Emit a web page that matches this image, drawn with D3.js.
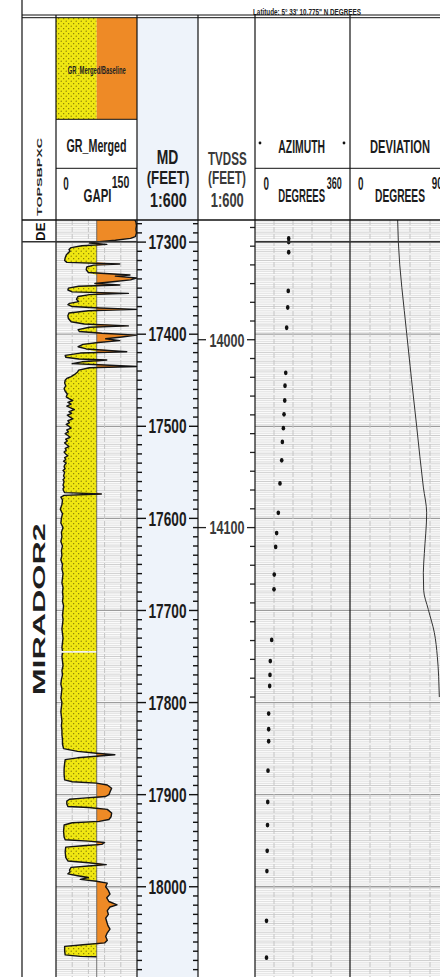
<!DOCTYPE html>
<head>
  <meta charset="utf-8">
  <script src="https://d3js.org/d3.v7.min.js"></script>
  <style>
    body { margin: 0; background: #fff; }
    text {
      font-family: "Liberation Sans Narrow", "Arial Narrow", "Liberation Sans", sans-serif;
      font-weight: bold;
    }
  </style>
</head>

<body>
  <script>
  // formation tops (MD, feet)
  var topNames = ["DE", "MIRADOR2"],
      topDepths = [17276, 17299.6];

  var mdLabels = [17300, 17400, 17500, 17600, 17700, 17800, 17900, 18000];
  var tvdLabels = [14000, 14100];

  // survey stations used to place the TVDSS ticks
  var surveyMd = [17276, 17406, 17610, 17794],
      surveyTvd = [13936, 14000, 14100, 14190];

  // azimuth survey points
  var azMd = [17296, 17300, 17311, 17353, 17371, 17393, 17442, 17456, 17472, 17487, 17502, 17517,
              17537, 17562, 17594, 17616, 17631, 17661, 17677, 17732, 17755, 17770, 17782, 17812,
              17829, 17842, 17874, 17908, 17933, 17961, 17983, 18037, 18077];
  var azDeg = [127.7, 127.7, 127.7, 126, 124, 120, 116.5, 113.7, 112.7, 110, 107.5, 103.7,
               101.2, 94.7, 88.4, 82, 78.3, 73, 72, 63.2, 58, 56.8, 55.6, 51.8,
               51.8, 51.8, 49.3, 48.3, 47.4, 46.2, 45.1, 43.6, 43.6];

  // deviation
  var devMd = [17276, 17300, 17399, 17500, 17566, 17594, 17638, 17659, 17678, 17699, 17724, 17750, 17772, 17794];
  var devDeg = [42.9, 43.5, 51, 60, 66, 69, 66.9, 66.0, 66.3, 70.5, 75.9, 78.6, 79.8, 80.4];

  var grBaseline = 75.4;

  // GR_Merged [MD, GAPI]
  var grLog = [
    [17276,146],[17278,148],[17282,149],[17286,148],[17290,149],[17294,147],[17296,138],[17298,110],[17299.5,80],
    [17301,62],[17302.5,94],[17304,48],[17306,28],[17308,24],[17310,26],[17312,22],[17314,19],[17317,17],[17320,16],
    [17322,20],[17323.8,118],[17325,70],[17327,57],[17330,56],[17333,60],[17335.7,137],[17337,110],[17339,149],
    [17341,138],[17343,105],[17345,72],[17346.6,118],[17348,42],[17350,23],[17352,22],[17354,30],[17355.7,134],
    [17357,62],[17359,41],[17362,38],[17364.7,42],[17366.5,25],[17368,22],[17370,30],[17371.5,80],[17373,149],
    [17374.5,60],[17377,24],[17380,22],[17383,23],[17386.5,28],[17389,52],[17391,134],[17392.5,62],[17395,41],
    [17397,43],[17399,85],[17401,149],[17403,122],[17405,92],[17407,118],[17409,78],[17411,50],[17413.6,41],
    [17416,56],[17419,131],[17420.5,45],[17423,17],[17425,18],[17427,42],[17428,94],[17430,48],[17432,30],
    [17433.5,90],[17435,149],[17436.5,62],[17439,42],[17441,40],[17443,36],[17446,28],[17448,20],[17450,17],
    [17453,16],[17456,18],[17459,15],[17462,17],[17465,21],[17468,19],
    [17470,24],[17472,31],[17474,22],[17476,28],[17478,20],[17480,27],[17482,34],[17484,24],[17486,29],[17488,21],
    [17490,26],[17492,31],[17494,22],[17496,25],[17498,19],[17500,24],[17502,28],[17504,20],[17506,23],[17508,17],
    [17510,22],[17512,26],[17514,18],[17516,21],[17518,16],[17520,20],[17522,24],[17524,17],[17526,19],[17528,15],
    [17530,18],[17532,22],[17534,16],[17536,18],[17538,14],[17540,19],[17542,16],[17544,15],[17546,17],[17548,13],
    [17550,16],[17552,15],[17554,14],[17556,16],[17558,13],[17560,15],[17562,14],[17564,13],[17566,15],[17568,13],
    [17570,14],[17572,16],[17573.5,84],[17575,15],[17577,9],[17580,12],[17585,11],[17590,8],[17595,12],[17600,10],
    [17605,9],[17610,13],[17615,10],[17620,11],[17625,9],[17630,12],[17635,10],[17640,11],[17645,9],[17650,12],
    [17655,11],[17660,13],[17665,12],[17670,11],[17675,13],[17680,12],[17685,13],[17690,12],[17695,14],[17700,13],
    [17705,12],[17710,13],[17715,12],[17720,11],[17725,12],[17730,13],[17735,12],[17740,11],[17744,12],[17745,null],
    [17746,12],[17750,11],[17755,12],[17760,13],[17765,11],[17770,12],[17775,10],[17780,9],[17785,11],[17790,10],
    [17795,9],[17800,11],[17805,10],[17810,9],[17815,10],[17820,11],[17825,10],[17830,11],[17835,11],[17840,12],
    [17845,12],[17850,14],[17853,40],[17855,75],[17856.7,109],[17858,80],[17860,40],[17862,17],[17866,16],[17872,15],
    [17878,15],[17884,16],[17886,30],[17887.5,75],[17889.5,95],[17893,103],[17897,100],[17900,98],[17902,92],
    [17903.8,50],[17905,25],[17907,20],[17910,20],[17912.8,22],[17914,60],[17916,95],[17920,103],[17924,102],
    [17927,98],[17929,80],[17930.5,30],[17933,15],[17940,14],[17946,15],[17949,17],[17950.5,60],[17952,90],
    [17954,85],[17955.5,50],[17957,18],[17962,17],[17968,18],[17972,22],[17974,60],[17976,93],[17977.5,60],
    [17979,28],[17982,25],[17984,26],[17986,22],[17988,40],[17990,60],[17992,45],[17994,75],[17996,95],[18000,92],
    [18004,97],[18008,100],[18012,94],[18016,98],[18019.6,113],[18022,100],[18026,95],[18030,97],[18034,92],
    [18038,94],[18042,96],[18046,100],[18050,95],[18054,92],[18058,95],[18061,90],[18063,50],[18064.8,16],
    [18070,16],[18074,17],[18075.6,45],[18076,75]
  ];

  var width = 440, height = 977;
  var headTop = 17.7, dataTop = 220, dataBottom = 977;

  // track edges
  var zoneX = [22, 56], grX = [56, 137], mdX = [137, 198],
      tvdX = [198, 255], azX = [255, 350], devX = [350, 450];

  var svg = d3.select("body").append("svg")
      .attr("width", width)
      .attr("height", height);

  var y = d3.scaleLinear().domain([17276, 18098]).range([dataTop, dataBottom]);
  var xGR = d3.scaleLinear().domain([0, 150]).range(grX);
  var xAz = d3.scaleLinear().domain([0, 360]).range(azX);
  var xDev = d3.scaleLinear().domain([0, 90]).range(devX);
  var tvdToMd = d3.scaleLinear().domain(surveyTvd).range(surveyMd);

  var defs = svg.append("defs");
  var sand = defs.append("pattern")
      .attr("id", "sand")
      .attr("patternUnits", "userSpaceOnUse")
      .attr("width", 5).attr("height", 5);
  sand.append("rect").attr("width", 5).attr("height", 5).attr("fill", "#f0e712");
  sand.append("circle").attr("cx", 1.2).attr("cy", 1.2).attr("r", 0.6).attr("fill", "#6f6600");
  sand.append("circle").attr("cx", 3.7).attr("cy", 3.7).attr("r", 0.6).attr("fill", "#6f6600");

  defs.append("clipPath").attr("id", "dataClip")
    .append("rect")
      .attr("x", 0).attr("y", dataTop)
      .attr("width", width).attr("height", dataBottom - dataTop);

  defs.append("clipPath").attr("id", "topCell")
    .append("rect")
      .attr("x", zoneX[0]).attr("y", y(topDepths[0]))
      .attr("width", zoneX[1] - zoneX[0])
      .attr("height", y(topDepths[1]) - y(topDepths[0]));

  function addText(x, yPos, str, size, len, anchor, color) {
    var t = svg.append("text")
        .attr("x", x)
        .attr("y", yPos)
        .attr("font-size", size)
        .attr("text-anchor", anchor || "middle")
        .attr("fill", color || "#1c1c1c")
        .text(str);
    if (len) t.attr("textLength", len).attr("lengthAdjust", "spacingAndGlyphs");
    return t;
  }

  // MD track background
  svg.append("rect")
      .attr("x", mdX[0]).attr("y", headTop)
      .attr("width", mdX[1] - mdX[0]).attr("height", height - headTop)
      .attr("fill", "#eef3fa");

  // ---- grids in data tracks
  var grid = svg.append("g").attr("clip-path", "url(#dataClip)");
  var gridDepths = d3.range(17278, 18098, 2);
  [grX, azX, devX].forEach(function(tx) {
    grid.append("g").selectAll("line")
      .data(gridDepths)
      .enter().append("line")
        .attr("x1", tx[0]).attr("x2", tx[1])
        .attr("y1", function(d) { return y(d); })
        .attr("y2", function(d) { return y(d); })
        .attr("stroke", function(d) { return d % 100 === 0 ? "#9c9c9c" : d % 10 === 0 ? "#cdcdcd" : "#e2e2e2"; })
        .attr("stroke-width", function(d) { return d % 100 === 0 ? 1.3 : 1; });
  });

  function vGrid(scale, values) {
    grid.append("g").selectAll("line")
      .data(values)
      .enter().append("line")
        .attr("x1", scale).attr("x2", scale)
        .attr("y1", dataTop).attr("y2", dataBottom)
        .attr("stroke", "#c4c4c4")
        .attr("stroke-dasharray", "5,2");
  }
  vGrid(xGR, [30, 60, 90, 120]);
  vGrid(xAz, [72, 144, 216, 288]);
  vGrid(xDev, [18, 36, 54, 72]);

  // ---- GR fills and curve
  var defined = function(d) { return d[1] != null; };
  var sandArea = d3.area()
      .defined(defined)
      .y(function(d) { return y(d[0]); })
      .x0(xGR(grBaseline))
      .x1(function(d) { return xGR(Math.min(d[1], grBaseline)); });
  var shaleArea = d3.area()
      .defined(defined)
      .y(function(d) { return y(d[0]); })
      .x0(xGR(grBaseline))
      .x1(function(d) { return xGR(Math.max(d[1], grBaseline)); });
  var grLine = d3.line()
      .defined(defined)
      .x(function(d) { return xGR(d[1]); })
      .y(function(d) { return y(d[0]); });

  var grG = svg.append("g").attr("clip-path", "url(#dataClip)");
  grG.append("path").datum(grLog).attr("d", sandArea).attr("fill", "url(#sand)");
  grG.append("path").datum(grLog).attr("d", shaleArea).attr("fill", "#ee8a26");
  grG.append("line")
      .attr("x1", xGR(grBaseline)).attr("x2", xGR(grBaseline))
      .attr("y1", dataTop).attr("y2", dataBottom)
      .attr("stroke", "#555").attr("stroke-width", 0.8);
  grG.append("path").datum(grLog)
      .attr("d", grLine)
      .attr("fill", "none")
      .attr("stroke", "#141414")
      .attr("stroke-width", 1.4)
      .attr("stroke-linejoin", "round");

  // ---- azimuth dots
  svg.append("g").selectAll("ellipse")
    .data(d3.range(azMd.length))
    .enter().append("ellipse")
      .attr("cx", function(i) { return xAz(azDeg[i]); })
      .attr("cy", function(i) { return y(azMd[i]); })
      .attr("rx", 1.8).attr("ry", 2.4)
      .attr("fill", "#111");

  // ---- deviation curve
  var devLine = d3.line()
      .x(function(i) { return xDev(devDeg[i]); })
      .y(function(i) { return y(devMd[i]); })
      .curve(d3.curveMonotoneY);
  svg.append("path")
      .datum(d3.range(devMd.length))
      .attr("d", devLine)
      .attr("fill", "none")
      .attr("stroke", "#333")
      .attr("stroke-width", 1);

  // ---- MD ticks and labels
  var mdTicks = d3.range(17280, 18098, 10);
  var mdG = svg.append("g").attr("clip-path", "url(#dataClip)");
  mdG.selectAll(".l").data(mdTicks).enter().append("line")
      .attr("x1", mdX[0])
      .attr("x2", function(d) { return mdX[0] + (d % 100 === 0 ? 9 : 5); })
      .attr("y1", function(d) { return y(d); })
      .attr("y2", function(d) { return y(d); })
      .attr("stroke", "#111").attr("stroke-width", 1.4);
  mdG.selectAll(".r").data(mdTicks).enter().append("line")
      .attr("x1", function(d) { return mdX[1] - (d % 100 === 0 ? 9 : 5); })
      .attr("x2", mdX[1])
      .attr("y1", function(d) { return y(d); })
      .attr("y2", function(d) { return y(d); })
      .attr("stroke", "#111").attr("stroke-width", 1.4);
  mdLabels.forEach(function(d) {
    addText((mdX[0] + mdX[1]) / 2, y(d), d, 20, 38).attr("dy", "0.36em");
  });

  // ---- TVDSS ticks and labels
  var tvdTicks = d3.range(13940, 14191, 10);
  var tvdG = svg.append("g");
  tvdG.selectAll(".r").data(tvdTicks).enter().append("line")
      .attr("x1", function(d) { return tvdX[1] - (d % 100 === 0 ? 8 : 5); })
      .attr("x2", tvdX[1])
      .attr("y1", function(d) { return y(tvdToMd(d)); })
      .attr("y2", function(d) { return y(tvdToMd(d)); })
      .attr("stroke", "#222").attr("stroke-width", 1.3);
  tvdG.selectAll(".l").data(tvdLabels).enter().append("line")
      .attr("x1", tvdX[0])
      .attr("x2", tvdX[0] + 8)
      .attr("y1", function(d) { return y(tvdToMd(d)); })
      .attr("y2", function(d) { return y(tvdToMd(d)); })
      .attr("stroke", "#222").attr("stroke-width", 1.3);
  tvdLabels.forEach(function(d) {
    addText(227, y(tvdToMd(d)), d, 19, 35, "middle", "#3a3a3a").attr("dy", "0.36em");
  });

  // ---- zone column: formation names
  svg.append("g")
      .attr("clip-path", "url(#topCell)")
    .append("text")
      .attr("transform", "translate(45," + (y(topDepths[1]) - 1) + ")rotate(-90)")
      .attr("font-size", 13)
      .attr("fill", "#111")
      .text(topNames[0]);
  svg.append("text")
      .attr("transform", "translate(39," + (y(topDepths[1]) + dataBottom) / 2 + ")rotate(-90)")
      .attr("text-anchor", "middle")
      .attr("dy", "0.36em")
      .attr("font-size", 17)
      .attr("fill", "#1e1e1e")
      .attr("textLength", 172)
      .attr("lengthAdjust", "spacingAndGlyphs")
      .text(topNames[1]);
  svg.append("text")
      .attr("transform", "translate(39,177)rotate(-90)")
      .attr("text-anchor", "middle")
      .attr("dy", "0.36em")
      .attr("font-size", 8)
      .attr("fill", "#1e1e1e")
      .attr("textLength", 78)
      .attr("lengthAdjust", "spacingAndGlyphs")
      .text("TOPSBPXC");

  // ---- header
  var base = xGR(grBaseline);
  svg.append("rect").attr("x", grX[0]).attr("y", headTop)
      .attr("width", base - grX[0]).attr("height", 119.3 - headTop)
      .attr("fill", "url(#sand)");
  svg.append("rect").attr("x", base).attr("y", headTop)
      .attr("width", grX[1] - base).attr("height", 119.3 - headTop)
      .attr("fill", "#ee8a26");
  addText(96.7, 74, "GR_Merged/Baseline", 10, 58, "middle", "#222");
  addText(96.5, 152, "GR_Merged", 18, 60);
  addText(63.3, 190, "0", 18, 5.5, "start");
  addText(97.5, 202, "GAPI", 18, 28);
  addText(111.7, 188, "150", 17, 17.6, "start");

  addText(167.5, 164, "MD", 20, 21.6);
  addText(168, 184, "(FEET)", 19, 42.6);
  addText(168.3, 207, "1:600", 20, 36.7);

  addText(227.3, 165, "TVDSS", 19, 38.7, "middle", "#3a3a3a");
  addText(227, 184, "(FEET)", 19, 38, "middle", "#3a3a3a");
  addText(227.3, 207, "1:600", 20, 33, "middle", "#3a3a3a");

  addText(301.7, 153, "AZIMUTH", 18, 46.7);
  svg.append("circle").attr("cx", 260).attr("cy", 143).attr("r", 1.4).attr("fill", "#111");
  svg.append("circle").attr("cx", 344).attr("cy", 143).attr("r", 1.4).attr("fill", "#111");
  addText(263.5, 190, "0", 18, 5.5, "start");
  addText(301.7, 202, "DEGREES", 18, 46.7);
  addText(326.7, 189, "360", 17, 15, "start");

  addText(400, 153, "DEVIATION", 18, 60);
  addText(358, 190, "0", 18, 5.5, "start");
  addText(400, 202, "DEGREES", 18, 50);
  addText(431.7, 189, "90", 17, 11, "start");

  addText(253, 15, "Latitude: 5\u00b0 33' 10.775\" N DEGREES", 9.5, 108, "start", "#222");

  // ---- frame lines
  var lines = svg.append("g").attr("stroke", "#111");
  [zoneX[0], zoneX[1], grX[1], mdX[1], tvdX[1], azX[1]].forEach(function(x, i) {
    lines.append("line")
        .attr("x1", x).attr("x2", x)
        .attr("y1", i === 0 ? 0 : 15).attr("y2", height)
        .attr("stroke-width", 1.2);
  });
  [15, headTop].forEach(function(h) {
    lines.append("line").attr("x1", zoneX[0]).attr("x2", width)
        .attr("y1", h).attr("y2", h).attr("stroke-width", 1);
  });
  lines.append("line").attr("x1", grX[0]).attr("x2", grX[1])
      .attr("y1", 119.3).attr("y2", 119.3).attr("stroke-width", 1);
  [[grX[0], grX[1]], [azX[0], width]].forEach(function(s) {
    lines.append("line").attr("x1", s[0]).attr("x2", s[1])
        .attr("y1", 168.3).attr("y2", 168.3).attr("stroke-width", 1);
  });
  lines.append("line").attr("x1", zoneX[0]).attr("x2", width)
      .attr("y1", dataTop).attr("y2", dataTop).attr("stroke-width", 1.6);
  // formation top line
  [[zoneX[0], grX[1]], [azX[0], width]].forEach(function(s) {
    lines.append("line").attr("x1", s[0]).attr("x2", s[1])
        .attr("y1", y(topDepths[1])).attr("y2", y(topDepths[1]))
        .attr("stroke-width", 1.6).attr("stroke", "#333");
  });
  </script>
</body>
